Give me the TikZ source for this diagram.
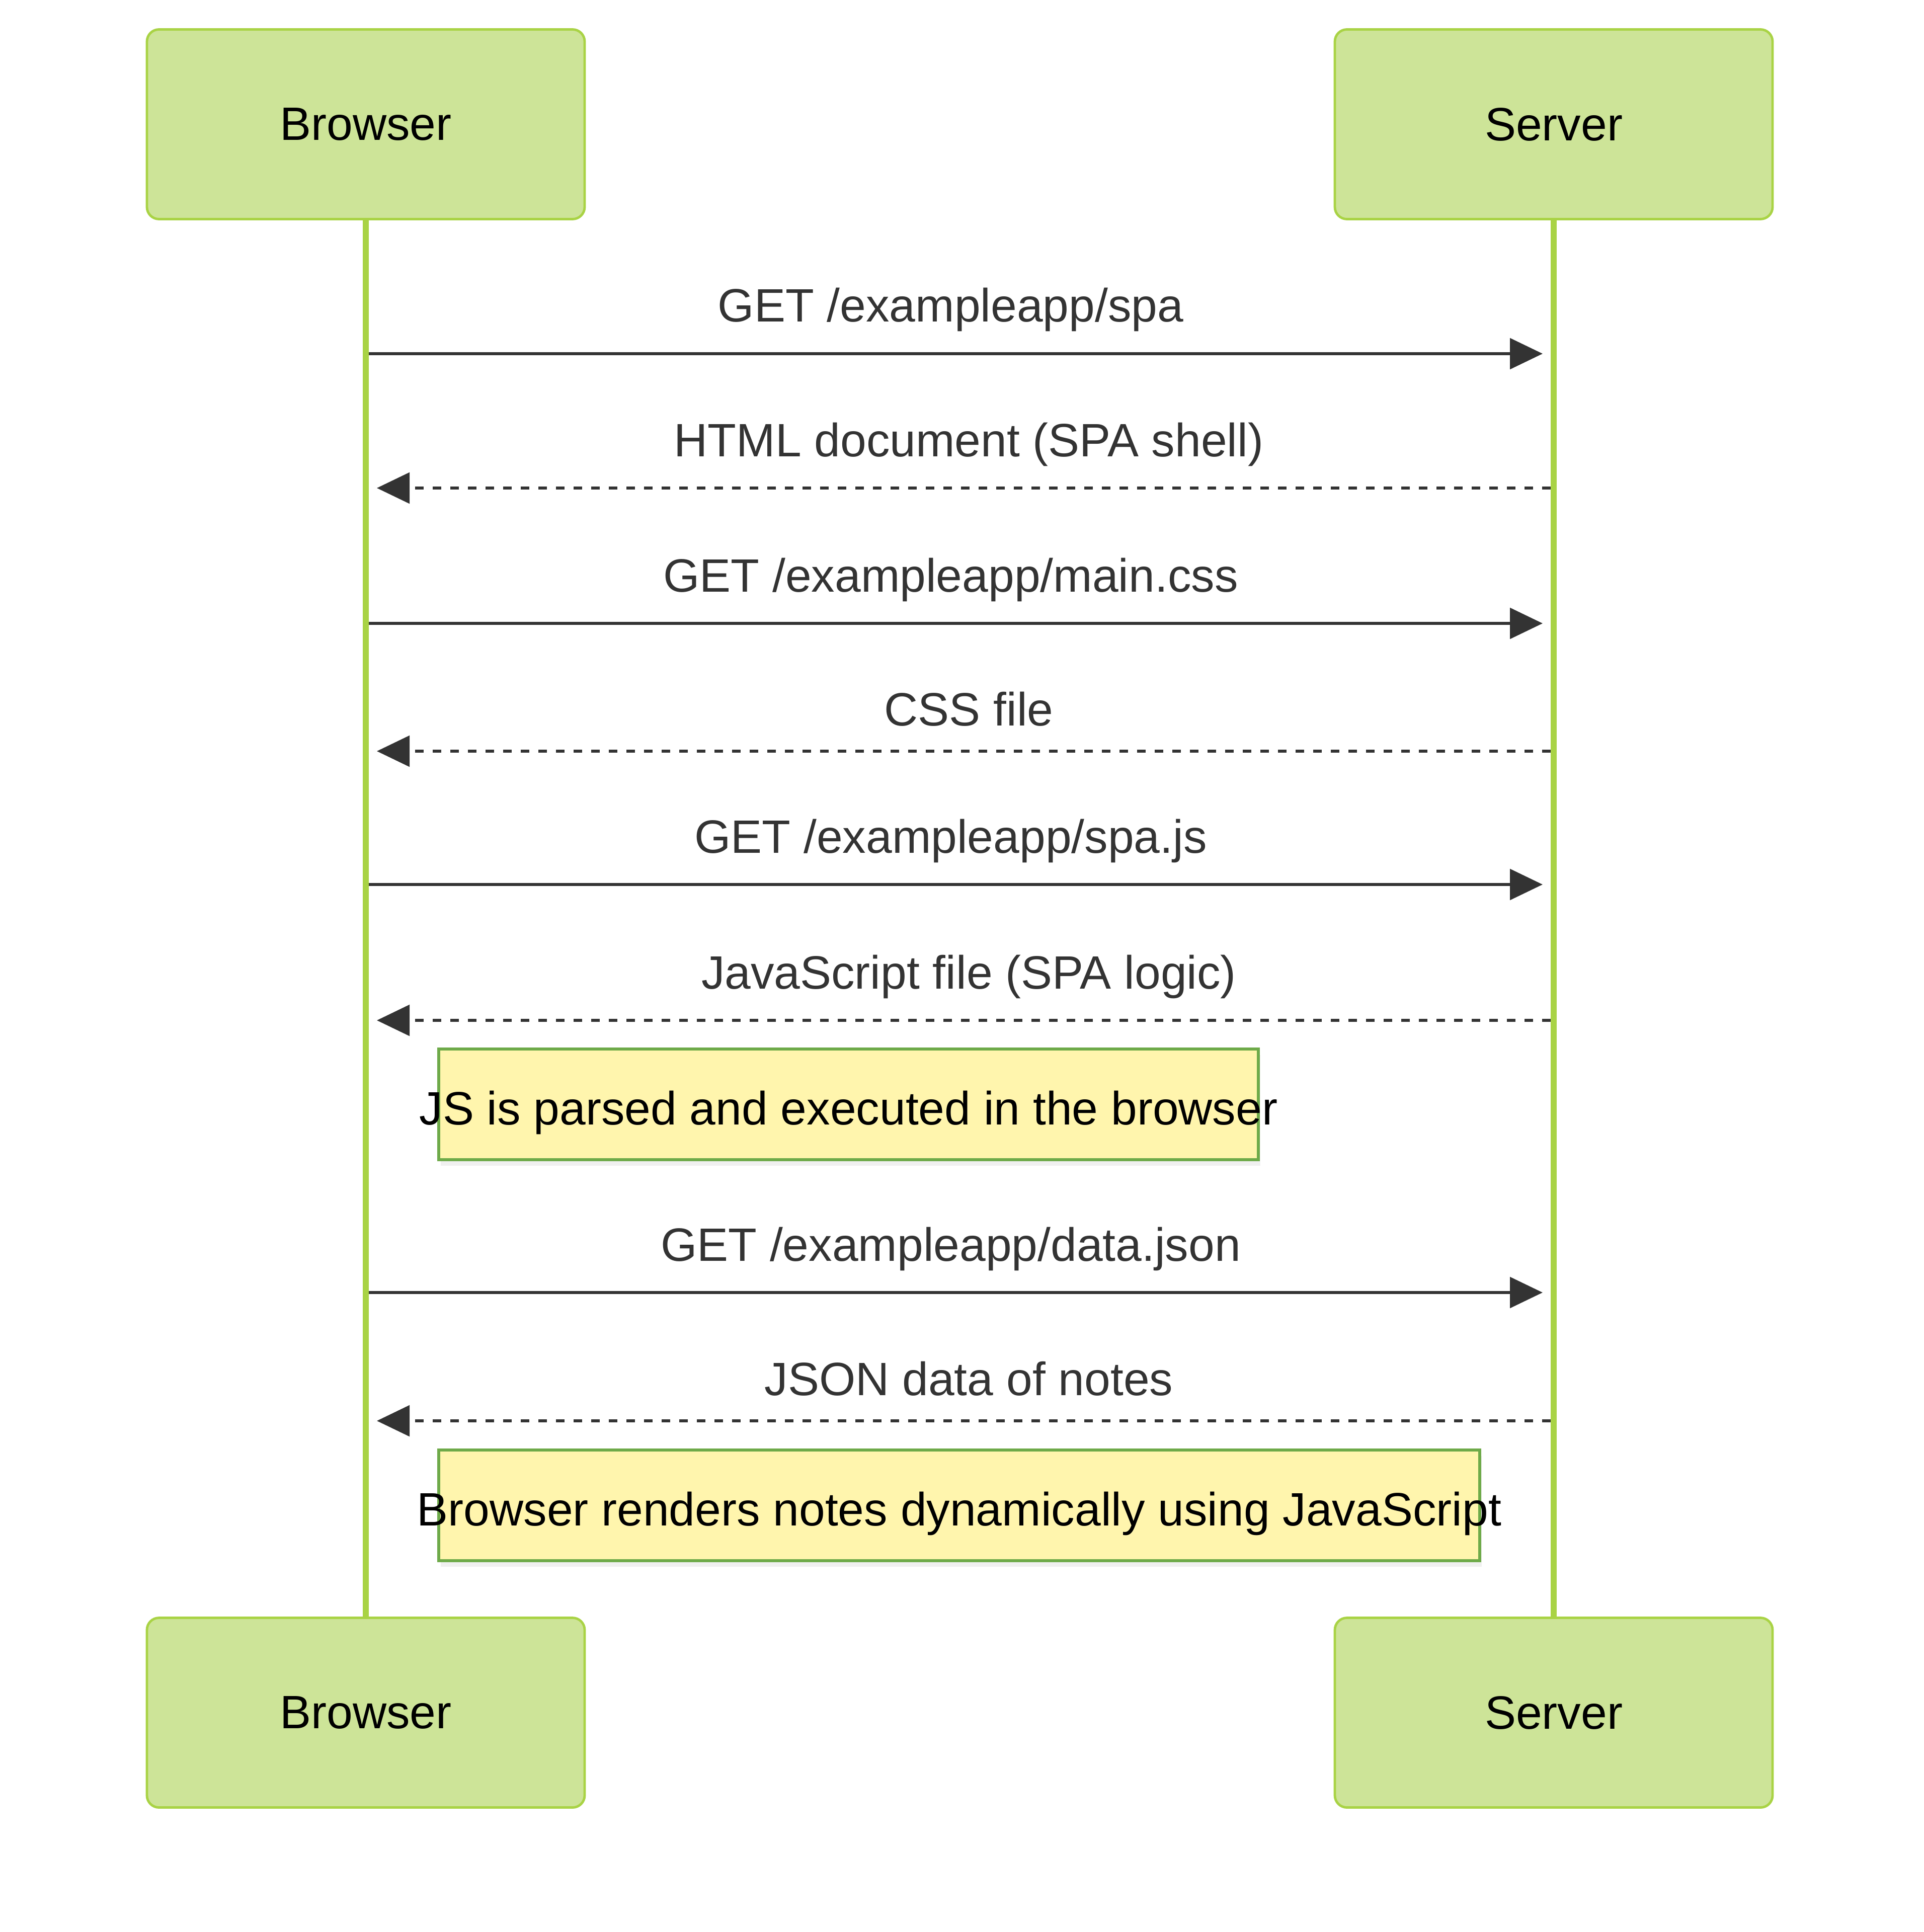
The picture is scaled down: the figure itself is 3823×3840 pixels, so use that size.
\documentclass[tikz,border=0pt]{standalone}
\usepackage{fontspec}
\setmainfont{Liberation Sans}
\usetikzlibrary{arrows.meta,positioning,shadows}
\definecolor{actorfill}{HTML}{CDE498}
\definecolor{actorline}{HTML}{A9D345}
\definecolor{notefill}{HTML}{FFF5AD}
\definecolor{noteline}{HTML}{6EAA49}
\definecolor{msgcol}{HTML}{333333}
\tikzset{
  actor/.style={rectangle,rounded corners=6pt,draw=actorline,fill=actorfill,line width=1.2pt,
    minimum width=217.5pt,minimum height=94.25pt,inner sep=0pt},
  note/.style={rectangle,draw=noteline,fill=notefill,line width=1.5pt,inner sep=0pt,
    minimum height=55pt,text height=20pt,text depth=0pt,
    drop shadow={opacity=0.12,shadow xshift=1pt,shadow yshift=-3pt}},
  msg/.style={draw=msgcol,line width=1.5pt,-{Triangle[length=16.25pt,width=15.25pt]},color=msgcol},
  reply/.style={msg,dash pattern=on 4.25pt off 4.5pt},
  lbl/.style={midway,anchor=base,yshift=#1,text=msgcol,inner sep=0pt},
  lbl/.default=15.75pt,
  rlbl/.style={lbl=#1,xshift=-2.5pt}, rlbl/.default=15.75pt,
  llbl/.style={lbl=#1,xshift=2.5pt}, llbl/.default=15.75pt,
}
\begin{document}
\begin{tikzpicture}[x=0.25pt,y=-0.25pt]
\fontsize{23.25pt}{28pt}\selectfont
  \useasboundingbox (0,0) rectangle (3823,3840);
  \node[actor] (brtop) at (727,247) {Browser};
  \node[actor] (srvtop) [right of=brtop,node distance=590.25pt] {Server};
  \node[actor] (brbot) [below of=brtop,node distance=789.25pt] {Browser};
  \node[actor] (srvbot) [below of=srvtop,node distance=789.25pt] {Server};

  % lifelines
  \draw[actorline,line width=3pt] (brtop) -- (brbot);
  \draw[actorline,line width=3pt] (srvtop) -- (srvbot);

  % message ends on the lifelines
  \coordinate (b1) at (733,703);  \coordinate (s1) at (3066,703);
  \coordinate (s2) at (3082,970); \coordinate (b2) at (749,970);
  \coordinate (b3) at (733,1239); \coordinate (s3) at (3066,1239);
  \coordinate (s4) at (3082,1493); \coordinate (b4) at (749,1493);
  \coordinate (b5) at (733,1758); \coordinate (s5) at (3066,1758);
  \coordinate (s6) at (3082,2028); \coordinate (b6) at (749,2028);
  \coordinate (b7) at (733,2569); \coordinate (s7) at (3066,2569);
  \coordinate (s8) at (3082,2824); \coordinate (b8) at (749,2824);

  \draw[msg] (b1) -- node[rlbl] {GET /exampleapp/spa} (s1);
  \draw[reply] (s2) -- node[llbl] {HTML document (SPA shell)} (b2);
  \draw[msg] (b3) -- node[rlbl] {GET /exampleapp/main.css} (s3);
  \draw[reply] (s4) -- node[llbl=12.75pt] {CSS file} (b4);
  \draw[msg] (b5) -- node[rlbl] {GET /exampleapp/spa.js} (s5);
  \draw[reply] (s6) -- node[llbl] {JavaScript file (SPA logic)} (b6);
  \draw[msg] (b7) -- node[rlbl] {GET /exampleapp/data.json} (s7);
  \draw[reply] (s8) -- node[llbl=12.75pt] {JSON data of notes} (b8);

  \node[note,minimum width=407.25pt] (note1) at (1686.5,2195)
    {\makebox[0pt]{JS is parsed and executed in the browser}};
  \node[note,minimum width=517.25pt] (note2) at (1906.5,2992)
    {\makebox[0pt]{Browser renders notes dynamically using JavaScript}};
\end{tikzpicture}
\end{document}
